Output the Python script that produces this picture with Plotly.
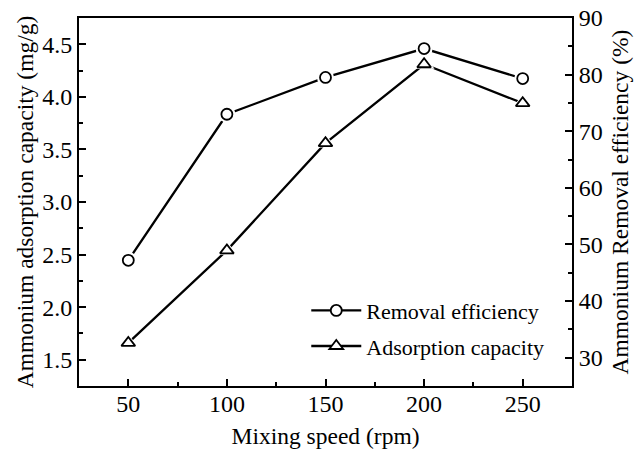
import plotly.graph_objects as go

speed = [50, 100, 150, 200, 250]
removal_eff = [47.2, 73.0, 79.5, 84.6, 79.3]
ads_capacity = [1.66, 2.54, 3.56, 4.31, 3.94]

FONT = "Liberation Serif"
BLACK = "#000000"

fig = go.Figure()

def add_series(x, y, name, symbol, axis, size):
    fig.add_trace(go.Scatter(
        x=x, y=y, name=name, mode="lines+markers", yaxis=axis,
        line=dict(color=BLACK, width=2.3),
        marker=dict(symbol=symbol, size=size, color="white",
                    line=dict(color=BLACK, width=1.8)),
        legendgroup=name,
    ))
    fig.add_trace(go.Scatter(
        x=x, y=y, mode="markers", yaxis=axis, showlegend=False, hoverinfo="skip",
        marker=dict(symbol=symbol, size=size + 6, color="white",
                    line=dict(width=0)),
    ))
    fig.add_trace(go.Scatter(
        x=x, y=y, mode="markers", yaxis=axis, showlegend=False, hoverinfo="skip",
        marker=dict(symbol=symbol, size=size, color="white",
                    line=dict(color=BLACK, width=1.8)),
    ))

add_series(speed, removal_eff, "Removal efficiency", "circle", "y2", 11)
add_series(speed, ads_capacity, "Adsorption capacity", "triangle-up", "y", 12)

tickfont = dict(family=FONT, size=24, color=BLACK)
titlefont = dict(family=FONT, size=23.5, color=BLACK)

fig.update_layout(
    width=640, height=449,
    margin=dict(l=79, r=68, t=18, b=63),
    paper_bgcolor="white", plot_bgcolor="white",
    font=dict(family=FONT, color=BLACK),
    showlegend=True,
    legend=dict(
        x=0.461, y=0.262, xanchor="left", yanchor="top",
        font=dict(family=FONT, size=22, color=BLACK),
        bgcolor="rgba(0,0,0,0)", borderwidth=0,
        traceorder="grouped", tracegroupgap=4, itemwidth=50,
    ),
    xaxis=dict(
        range=[25, 275], tickvals=[50, 100, 150, 200, 250],
        ticks="inside", ticklen=7, tickwidth=1.8, tickcolor=BLACK,
        minor=dict(ticks="inside", ticklen=4, tickwidth=1.5, dtick=25, tick0=0, tickcolor=BLACK),
        showline=True, linecolor=BLACK, linewidth=2, mirror=True,
        showgrid=False, zeroline=False, automargin=False,
        tickfont=tickfont, ticklabelstandoff=-5, ticklabeloverflow="allow",
        title=dict(text="Mixing speed (rpm)", font=titlefont, standoff=13),
    ),
    yaxis=dict(
        range=[1.25, 4.75], tickvals=[1.5, 2.0, 2.5, 3.0, 3.5, 4.0, 4.5],
        ticktext=["1.5", "2.0", "2.5", "3.0", "3.5", "4.0", "4.5"],
        ticks="inside", ticklen=7, tickwidth=1.8, tickcolor=BLACK,
        minor=dict(ticks="inside", ticklen=4, tickwidth=1.5, dtick=0.25, tick0=0, tickcolor=BLACK),
        showline=True, linecolor=BLACK, linewidth=2, mirror=True,
        showgrid=False, zeroline=False, automargin=False,
        tickfont=tickfont, ticklabeloverflow="allow",
        title=dict(text="Ammonium adsorption capacity (mg/g)", font=titlefont, standoff=2),
    ),
    yaxis2=dict(
        range=[25, 90], tickvals=[30, 40, 50, 60, 70, 80, 90],
        overlaying="y", side="right",
        ticks="inside", ticklen=7, tickwidth=1.8, tickcolor=BLACK,
        minor=dict(ticks="inside", ticklen=4, tickwidth=1.5, dtick=5, tick0=0, tickcolor=BLACK),
        showline=True, linecolor=BLACK, linewidth=2,
        showgrid=False, zeroline=False, automargin=False,
        tickfont=tickfont, ticklabeloverflow="allow",
        title=dict(text="Ammonium Removal efficiency (%)", font=titlefont, standoff=10),
    ),
)

# remove the default 8px page margin so the 640x449 figure fills the window exactly
fig.write_html(
    "out.html",
    config={"displayModeBar": False},
    post_script="document.body.style.margin='0';document.body.style.overflow='hidden';",
)
